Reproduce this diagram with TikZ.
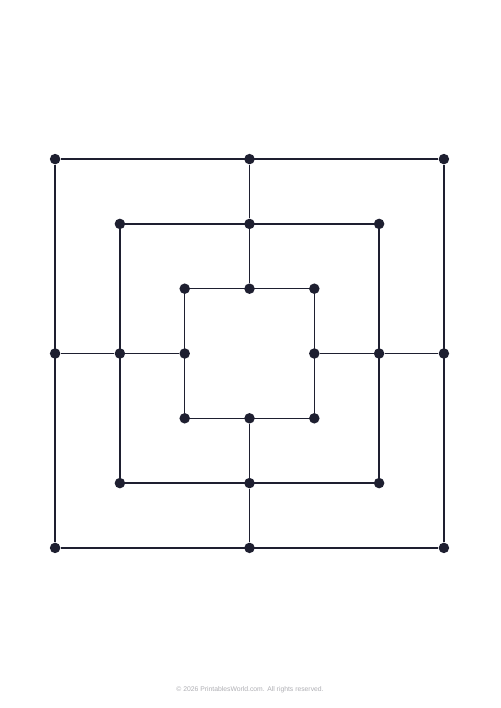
\documentclass[tikz,border=0pt]{standalone}
\usepackage{fontspec}
\setmainfont{Liberation Sans}
\usepackage{tikz}
\definecolor{boardColor}{RGB}{30,31,48}
\definecolor{footerColor}{RGB}{175,175,180}
\tikzstyle{board} = [x = 1pt, y = -1pt]
\tikzstyle{boardLine} = [color=boardColor, line width=1.4pt]
\tikzstyle{boardDot} = [circle, fill=boardColor, inner sep=0pt, minimum size=10.5pt]
\tikzstyle{footerText} = [color=footerColor, font=\fontsize{6.8}{8}\selectfont]
\newcommand{\cx}{249.5}
\newcommand{\cy}{353.5}
\newcommand{\step}{64.8}

\begin{document}
\begin{tikzpicture}[board]
      \useasboundingbox (0,0) rectangle (500,708);
      \fill [white] (0,0) rectangle (500,708);

      \foreach \s in {1,2,3} {
        \foreach \px/\py/\pos in {-1/-1/tl, 0/-1/tc, 1/-1/tr, 1/0/rc, 1/1/br, 0/1/bc, -1/1/bl, -1/0/lc} {
          \node [boardDot] (s\s-\pos) at (\cx + \px * \s * \step, \cy + \py * \s * \step) {};
        }
        \draw [boardLine] (s\s-tl) -- (s\s-tr) -- (s\s-br) -- (s\s-bl) -- (s\s-tl);
      }
      \foreach \pos in {tc,rc,bc,lc} {
        \draw [boardLine] (s1-\pos) -- (s2-\pos) -- (s3-\pos);
      }

      \node [footerText] (footer) at (250,690) {© 2026 PrintablesWorld.com. All rights reserved.};
    \end{tikzpicture}
\end{document}
